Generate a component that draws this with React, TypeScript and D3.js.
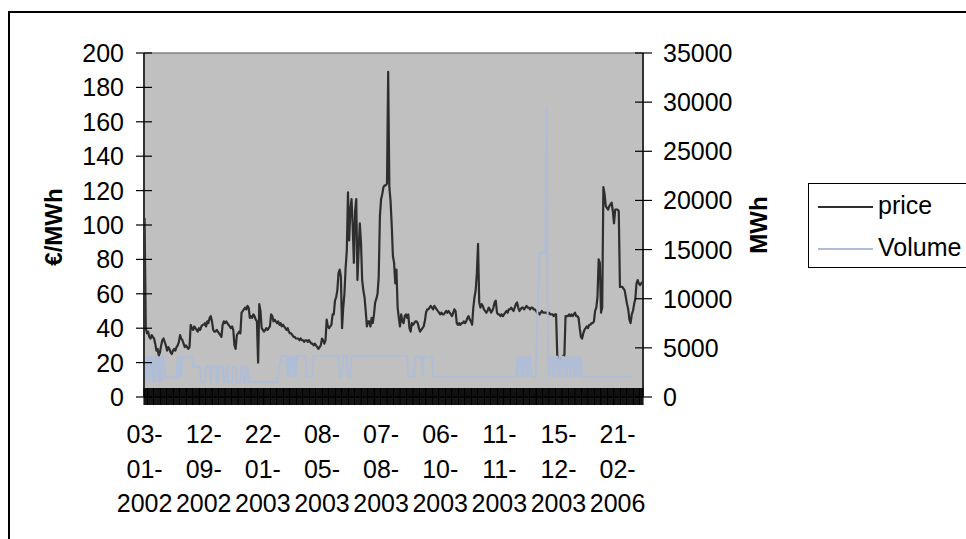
import React from 'react';
import * as d3 from 'd3';

// price (€/MWh), one value per category (row) of the sheet
const price: number[] = [
  104, 40, 37, 38, 35, 34, 36, 35, 34, 31,
  27, 28, 24, 26, 30, 33, 34, 32, 30, 27,
  29, 28, 26, 25, 27, 28, 27, 29, 30, 32,
  36, 34, 33, 31, 29, 30, 29, 28, 29, 42,
  40, 39, 41, 40, 39, 38, 40, 39, 41, 42,
  42, 43, 41, 44, 43, 46, 47, 44, 39, 38,
  38, 39, 38, 37, 36, 35, 42, 44, 43, 44,
  43, 42, 41, 40, 41, 39, 30, 28, 36, 37,
  38, 37, 49, 50, 51, 52, 51, 53, 52, 46,
  47, 46, 48, 47, 45, 44, 20, 54, 50, 40,
  39, 38, 39, 40, 39, 40, 41, 48, 47, 44,
  45, 44, 43, 44, 42, 43, 41, 42, 41, 40,
  39, 40, 38, 37, 37, 36, 35, 35, 34, 34,
  34, 33, 34, 33, 33, 32, 33, 33, 32, 33,
  32, 31, 31, 30, 31, 30, 29, 28, 29, 30,
  34, 33, 31, 33, 45, 41, 40, 41, 42, 48,
  48, 56, 58, 62, 72, 74, 70, 40, 52, 60,
  75, 85, 119, 91, 109, 115, 99, 78, 108, 115,
  68, 85, 101, 90, 68, 62, 58, 50, 41, 44,
  44, 41, 46, 43, 48, 55, 57, 60, 70, 105,
  115, 118, 122, 123, 123, 124, 189, 122, 114, 100,
  82, 78, 66, 74, 52, 46, 41, 48, 44, 43,
  47, 48, 46, 48, 40, 38, 43, 42, 43, 44,
  44, 43, 40, 38, 39, 40, 41, 44, 49, 51,
  51, 52, 53, 52, 51, 53, 52, 51, 50, 49,
  48, 49, 48, 48, 49, 50, 49, 50, 49, 48,
  47, 49, 51, 50, 43, 42, 43, 42, 43, 43,
  44, 43, 44, 46, 47, 45, 44, 42, 52, 58,
  62, 72, 89, 55, 52, 54, 53, 51, 50, 49,
  50, 52, 51, 49, 50, 52, 55, 56, 49, 48,
  48, 47, 48, 47, 48, 49, 50, 49, 51, 51,
  52, 51, 50, 52, 54, 55, 52, 50, 51, 52,
  52, 51, 52, 53, 52, 52, 51, 52, 52, 51,
  51, 50, 49, 49, 48, 49, 50, 49, 49, 49,
  49, 48, 49, 48, 48, 48, 47, 48, 48, 24,
  22, 22, 22, 23, 24, 24, 47, 47, 47, 48,
  47, 48, 47, 48, 49, 47, 47, 46, 40, 35,
  34, 37, 39, 40, 41, 40, 42, 42, 43, 43,
  44, 50, 52, 58, 80, 78, 49, 52, 122, 118,
  111, 110, 109, 111, 112, 113, 108, 101, 109, 109,
  109, 108, 64, 64, 64, 63, 62, 58, 54, 51,
  45, 43, 48, 50, 54, 57, 66, 68, 66, 65,
  66, 67,
];

// Volume (MWh), one value per category
const volume: number[] = [
  4100, 1500, 4100, 4100, 1500, 4100, 4100, 1500, 4100, 1500,
  4100, 4100, 1500, 4100, 1500, 4100, 4100, 2000, 2000, 2000,
  2000, 2000, 2000, 2000, 2000, 2000, 2000, 2000, 4100, 2000,
  4100, 2000, 4100, 4100, 4100, 4100, 4100, 4100, 4100, 4100,
  4100, 3080, 3080, 3080, 3080, 3080, 3080, 3080, 1500, 1500,
  1500, 1500, 3080, 3080, 3080, 3080, 1500, 3080, 3080, 3080,
  3080, 1500, 1500, 3080, 3080, 3080, 3080, 1500, 1500, 3080,
  3080, 1500, 1500, 1500, 1500, 3080, 3080, 3080, 1500, 1500,
  1500, 1500, 3080, 3080, 1500, 1500, 3080, 3080, 1500, 1500,
  1500, 1500, 1500, 1500, 1500, 1500, 1500, 1500, 1500, 1500,
  1500, 1500, 1500, 1500, 1500, 1500, 1500, 1500, 1500, 1500,
  1500, 1500, 1500, 2500, 3080, 3500, 4200, 4200, 4200, 4200,
  4200, 2050, 4200, 2050, 4200, 4200, 2050, 4200, 2050, 4200,
  4200, 4200, 4200, 4200, 4200, 4200, 4200, 2050, 2050, 2050,
  2050, 2050, 2050, 4200, 4200, 4200, 4200, 4200, 4200, 4200,
  4200, 4200, 4200, 4200, 4200, 4200, 4200, 4200, 4200, 4200,
  4200, 4200, 4200, 4200, 4200, 2050, 2050, 2050, 4200, 4200,
  4200, 4200, 2050, 2050, 2050, 4200, 4200, 4200, 4200, 4200,
  4200, 4200, 4200, 4200, 4200, 4200, 4200, 4200, 4200, 4200,
  4200, 4200, 4200, 4200, 4200, 4200, 4200, 4200, 4200, 4200,
  4200, 4200, 4200, 4200, 4200, 4200, 4200, 4200, 4200, 4200,
  4200, 4200, 4200, 4200, 4200, 4200, 4200, 4200, 4200, 4200,
  4200, 4200, 4200, 2050, 2050, 2050, 2050, 2050, 2050, 4100,
  4100, 4100, 4100, 4100, 4100, 2050, 4100, 4100, 4100, 4100,
  4100, 4100, 4100, 4100, 2050, 2050, 2050, 2050, 2050, 2050,
  2050, 2050, 2050, 2050, 2050, 2050, 2050, 2050, 2050, 2050,
  2050, 2050, 2050, 2050, 2050, 2050, 2050, 2050, 2050, 2050,
  2050, 2050, 2050, 2050, 2050, 2050, 2050, 2050, 2050, 2050,
  2050, 2050, 2050, 2050, 2050, 2050, 2050, 2050, 2050, 2050,
  2050, 2050, 2050, 2050, 2050, 2050, 2050, 2050, 2050, 2050,
  2050, 2050, 2050, 2050, 2050, 2050, 2050, 2050, 2050, 2050,
  2050, 2050, 2050, 2050, 2050, 4100, 2050, 4100, 4100, 2050,
  4100, 2050, 4100, 4100, 2050, 4100, 4100, 2050, 2050, 2050,
  2050, 2050, 8000, 11000, 14650, 14650, 14650, 14650, 14650, 14650,
  29370, 4100, 2050, 4100, 4100, 2050, 4100, 2050, 4100, 4100,
  2050, 4100, 2050, 4100, 4100, 2050, 4100, 2050, 4100, 4100,
  2050, 4100, 4100, 2050, 4100, 2050, 4100, 4100, 2050, 4100,
  2050, 2050, 2050, 2050, 2050, 2050, 2050, 2050, 2050, 2050,
  2050, 2050, 2050, 2050, 2050, 2050, 2050, 2050, 2050, 2050,
  2050, 2050, 2050, 2050, 2050, 2050, 2050, 2050, 2050, 2050,
  2050, 2050, 2050, 2050, 2050, 2050, 2050, 2050, 2050, 2050,
  2050, 2050,
];

const dateLabels: string[] = [
  '03-01-2002', '12-09-2002', '22-01-2003', '08-05-2003', '07-08-2003',
  '06-10-2003', '11-11-2003', '15-12-2003', '21-02-2006',
];
const labelEvery = 50;
const leftTicks: number[] = [0, 20, 40, 60, 80, 100, 120, 140, 160, 180, 200];
const rightTicks: number[] = [0, 5000, 10000, 15000, 20000, 25000, 30000, 35000];
const seriesNames: string[] = ['price', 'Volume'];
const leftTitle = '€/MWh';
const rightTitle = 'MWh';

const FONT = '"Liberation Sans", Arial, Helvetica, sans-serif';
const PRICE_COLOR = '#2e2e2e';
const VOL_COLOR = '#b0bdd6';

export default function App() {
  const W = 966;
  const H = 539;
  const plot = { left: 144, right: 643, top: 53, bottom: 397 };
  const N = price.length;

  const x = d3
    .scaleBand<number>()
    .domain(d3.range(N))
    .range([plot.left, plot.right])
    .padding(0);
  const bw = x.bandwidth();
  const cx = (i: number) => (x(i) as number) + bw / 2;
  const yL = d3.scaleLinear().domain([0, 200]).range([plot.bottom, plot.top]);
  const yR = d3.scaleLinear().domain([0, 35000]).range([plot.bottom, plot.top]);

  const priceLine = d3
    .line<number>()
    .x((_, i) => cx(i))
    .y((d) => yL(d));
  const volLine = d3
    .line<number>()
    .x((_, i) => cx(i))
    .y((d) => yR(d));

  // category tick marks (crossing the axis)
  const catTicks = d3
    .range(N + 1)
    .map((i) => {
      const xx = plot.left + i * bw;
      return `M${xx.toFixed(2)},${plot.bottom - 9}V${plot.bottom + 8}`;
    })
    .join('');

  const fs = 25;

  return (
    <svg
      width={W}
      height={H}
      style={{ position: 'absolute', left: 0, top: 0, background: '#fff' }}
      fontFamily={FONT}
    >
      {/* outer chart frame */}
      <rect x={9} y={12} width={1100} height={700} fill="#fff" stroke="#000" strokeWidth={2} />

      {/* plot area */}
      <rect
        x={plot.left}
        y={plot.top}
        width={plot.right - plot.left}
        height={plot.bottom - plot.top}
        fill="#c0c0c0"
      />
      <line x1={plot.left} x2={plot.right} y1={plot.top} y2={plot.top} stroke="#808080" strokeWidth={1.5} />

      {/* series */}
      <path d={priceLine(price) || ''} fill="none" stroke={PRICE_COLOR} strokeWidth={2.2} strokeLinejoin="round" />
      <path d={volLine(volume) || ''} fill="none" stroke={VOL_COLOR} strokeWidth={2} strokeLinejoin="miter" />

      {/* axes lines */}
      <line x1={plot.left} x2={plot.left} y1={plot.top} y2={plot.bottom} stroke="#333" strokeWidth={2} />
      <line x1={plot.right} x2={plot.right} y1={plot.top} y2={plot.bottom} stroke="#333" strokeWidth={2} />
      <line x1={plot.left} x2={plot.right} y1={plot.bottom} y2={plot.bottom} stroke="#000" strokeWidth={1.5} />
      <path d={catTicks} stroke="#000" strokeWidth={1.1} fill="none" />

      {/* left axis */}
      {leftTicks.map((t) => (
        <g key={'l' + t}>
          <line x1={136} x2={152} y1={yL(t)} y2={yL(t)} stroke="#000" strokeWidth={1.2} />
          <text x={124} y={yL(t)} dy="0.36em" textAnchor="end" fontSize={fs} fill="#000">
            {t}
          </text>
        </g>
      ))}

      {/* right axis */}
      {rightTicks.map((t) => (
        <g key={'r' + t}>
          <line x1={635} x2={652} y1={yR(t)} y2={yR(t)} stroke="#000" strokeWidth={1.2} />
          <text x={663} y={yR(t)} dy="0.36em" textAnchor="start" fontSize={fs} fill="#000">
            {t}
          </text>
        </g>
      ))}

      {/* category labels */}
      {dateLabels.map((lab, k) => {
        const parts = lab.split('-');
        const lines = [parts[0] + '-', parts[1] + '-', parts[2]];
        const xx = cx(k * labelEvery);
        return (
          <text key={lab} x={xx} textAnchor="middle" fontSize={fs} fill="#000">
            {lines.map((ln, j) => (
              <tspan key={j} x={xx} y={443 + j * 34.5}>
                {ln}
              </tspan>
            ))}
          </text>
        );
      })}

      {/* axis titles */}
      <text
        transform="translate(62,227) rotate(-90)"
        textAnchor="middle"
        fontSize={24}
        fontWeight="bold"
        fill="#000"
      >
        {leftTitle}
      </text>
      <text
        transform="translate(767,225) rotate(-90)"
        textAnchor="middle"
        fontSize={24}
        fontWeight="bold"
        fill="#000"
      >
        {rightTitle}
      </text>

      {/* legend */}
      <rect x={808.5} y={183.5} width={250} height={84} fill="#fff" stroke="#000" strokeWidth={1} />
      <line x1={818} x2={873} y1={207} y2={207} stroke={PRICE_COLOR} strokeWidth={2} />
      <text x={878} y={214} fontSize={fs} fill="#000">
        {seriesNames[0]}
      </text>
      <line x1={818} x2={873} y1={249} y2={249} stroke={VOL_COLOR} strokeWidth={2} />
      <text x={878} y={256} fontSize={fs} fill="#000">
        {seriesNames[1]}
      </text>
    </svg>
  );
}
